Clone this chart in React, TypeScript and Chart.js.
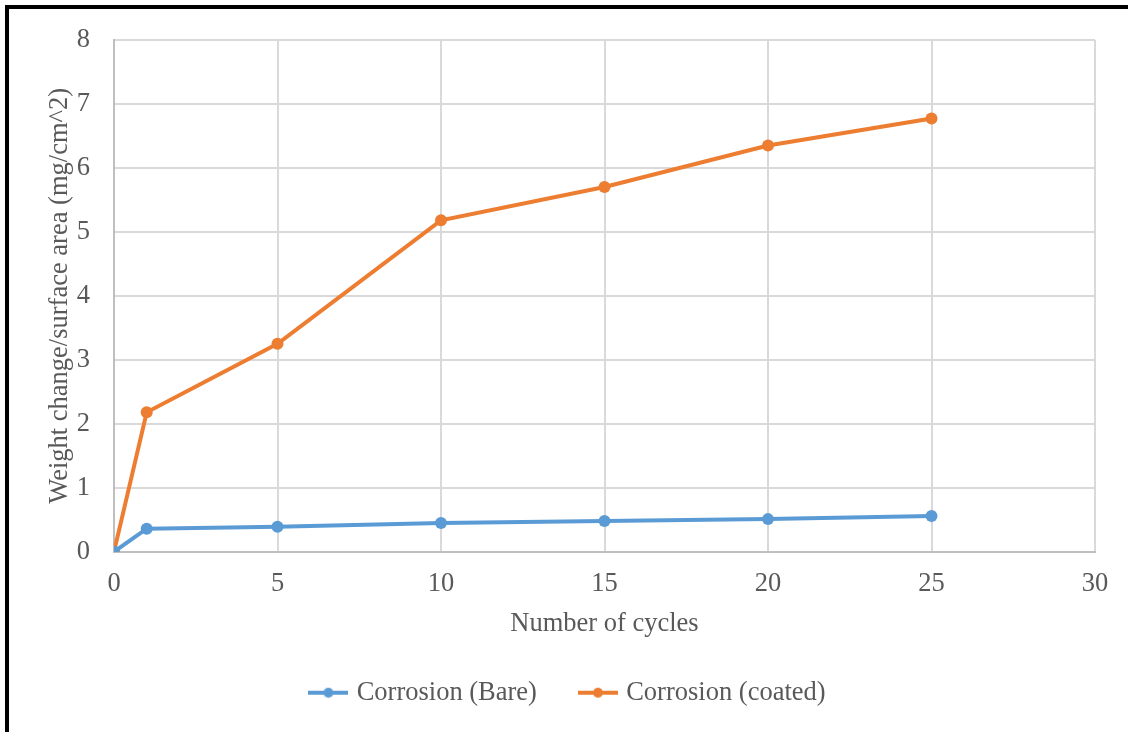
import React, { useEffect, useRef } from "react";
import { Chart, registerables } from "chart.js";

Chart.register(...registerables);

const cycles = [0, 1, 5, 10, 15, 20, 25];
const bareValues = [0, 0.36, 0.39, 0.45, 0.48, 0.51, 0.56];
const coatedValues = [0, 2.18, 3.25, 5.18, 5.7, 6.35, 6.77];
const seriesNames = ["Corrosion (Bare)", "Corrosion (coated)"];
const seriesColors = ["#5B9BD5", "#ED7D31"];
const xTitle = "Number of cycles";
const yTitle = "Weight change/surface area (mg/cm^2)";

const FONT = "'Liberation Serif', 'Times New Roman', serif";
const TEXT = "#595959";
const FS = 26.5;

function legendIcon(color: string) {
  const c = document.createElement("canvas");
  c.width = 40;
  c.height = 12;
  const ctx = c.getContext("2d")!;
  ctx.strokeStyle = color;
  ctx.lineWidth = 4;
  ctx.beginPath();
  ctx.moveTo(0, 6);
  ctx.lineTo(40, 6);
  ctx.stroke();
  ctx.fillStyle = color;
  ctx.beginPath();
  ctx.arc(20, 6, 5, 0, Math.PI * 2);
  ctx.fill();
  return c;
}

export default function App() {
  const ref = useRef<HTMLCanvasElement>(null);
  useEffect(() => {
    if (!ref.current) return;
    const icons = seriesColors.map(legendIcon);
    const mk = (vals: number[], i: number) => ({
      label: seriesNames[i],
      data: cycles.map((x, j) => ({ x, y: vals[j] })),
      borderColor: seriesColors[i],
      backgroundColor: seriesColors[i],
      borderWidth: 4,
      pointRadius: 6,
      pointHoverRadius: 6,
      pointBorderWidth: 0,
      tension: 0,
    });
    const chart = new Chart(ref.current, {
      type: "line",
      data: { datasets: [mk(bareValues, 0), mk(coatedValues, 1)] },
      options: {
        animation: false,
        responsive: false,
        layout: { padding: { left: 44, right: 33, top: 38, bottom: 16 } },
        plugins: {
          tooltip: { enabled: false },
          legend: {
            position: "bottom",
            labels: {
              usePointStyle: true,
              pointStyleWidth: 30,
              padding: 46,
              color: TEXT,
              font: { family: FONT, size: FS },
              generateLabels: (ch: any) =>
                ch.data.datasets.map((d: any, i: number) => ({
                  text: d.label,
                  fillStyle: seriesColors[i],
                  strokeStyle: seriesColors[i],
                  lineWidth: 0,
                  pointStyle: icons[i],
                  hidden: false,
                  datasetIndex: i,
                  fontColor: TEXT,
                })),
            },
          },
        },
        scales: {
          x: {
            type: "linear",
            min: 0,
            max: 30,
            ticks: { stepSize: 5, color: TEXT, font: { family: FONT, size: FS }, padding: 16 },
            grid: { color: "#D9D9D9", lineWidth: 2, drawTicks: false },
            border: { color: "#BFBFBF", width: 2 },
            title: {
              display: true,
              text: xTitle,
              color: TEXT,
              font: { family: FONT, size: FS },
              padding: { top: 0, bottom: -6 },
            },
            afterFit: (s: any) => {
              s.height = 81.75;
            },
          },
          y: {
            min: 0,
            max: 8,
            ticks: { stepSize: 1, color: TEXT, font: { family: FONT, size: FS }, padding: 24 },
            grid: { color: "#D9D9D9", lineWidth: 2, drawTicks: false },
            border: { color: "#BFBFBF", width: 2 },
            title: { display: true, text: yTitle, color: TEXT, font: { family: FONT, size: FS }, padding: 0 },
            afterFit: (s: any) => {
              s.width = 70;
            },
          },
        },
      },
    } as any);
    return () => chart.destroy();
  }, []);
  return (
    <div
      style={{
        position: "fixed",
        left: 0,
        top: 0,
        width: 1128,
        height: 732,
        background: "#fff",
        overflow: "hidden",
      }}
    >
      <div
        style={{
          position: "absolute",
          left: 5,
          top: 5,
          right: 0,
          bottom: 0,
          borderTop: "4px solid #000",
          borderLeft: "4px solid #000",
        }}
      />
      <canvas
        ref={ref}
        width={1128}
        height={732}
        style={{ position: "absolute", left: 0, top: 0 }}
      />
    </div>
  );
}
